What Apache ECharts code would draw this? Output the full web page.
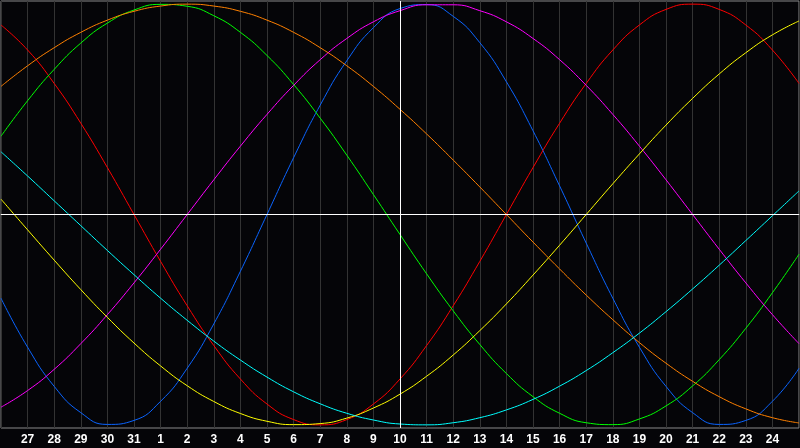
<!DOCTYPE html>
<html>
<head>
<meta charset="utf-8">
<script src="https://cdn.jsdelivr.net/npm/echarts@6/dist/echarts.min.js"></script>
<style>
html,body{margin:0;padding:0;background:#050508;}
#chart{width:800px;height:448px;}
</style>
</head>
<body>
<div id="chart"></div>
<script>
const days = ['26','27','28','29','30','31','1','2','3','4','5','6','7','8','9','10','11','12','13','14','15','16','17','18','19','20','21','22','23','24','25'];
const todayLabel = '10';
const physical = [-39.8,-63.1,-81.7,-94.2,-99.8,-97.9,-88.8,-73.1,-52.0,-27.0,0,27.0,52.0,73.1,88.8,97.9,99.8,94.2,81.7,63.1,39.8,13.6,-13.6,-39.8,-63.1,-81.7,-94.2,-99.8,-97.9,-88.8,-73.1];
const emotional = [90.1,78.2,62.3,43.4,22.3,0,-22.3,-43.4,-62.3,-78.2,-90.1,-97.5,-100,-97.5,-90.1,-78.2,-62.3,-43.4,-22.3,0,22.3,43.4,62.3,78.2,90.1,97.5,100,97.5,90.1,78.2,62.3];
const intellectual = [37.2,54.1,69.0,81.5,91.0,97.2,99.9,99.0,94.5,86.6,75.6,61.8,45.8,28.2,9.5,-9.5,-28.2,-45.8,-61.8,-75.6,-86.6,-94.5,-99.0,-99.9,-97.2,-91.0,-81.5,-69.0,-54.1,-37.2,-18.9];
const intuitive = [-91.6,-83.7,-73.6,-61.4,-47.6,-32.5,-16.5,0,16.5,32.5,47.6,61.4,73.6,83.7,91.6,96.9,99.7,99.7,96.9,91.6,83.7,73.6,61.4,47.6,32.5,16.5,0,-16.5,-32.5,-47.6,-61.4];
const aesthetic = [7.3,-7.3,-21.7,-35.7,-48.9,-61.1,-72.0,-81.4,-88.9,-94.6,-98.3,-99.9,-99.4,-96.8,-92.0,-85.4,-76.9,-66.8,-55.2,-42.5,-28.8,-14.6,0,14.6,28.8,42.5,55.2,66.8,76.9,85.4,92.0];
const awareness = [60.9,70.7,79.3,86.6,92.4,96.6,99.1,100,99.1,96.6,92.4,86.6,79.3,70.7,60.9,50.0,38.3,25.9,13.1,0,-13.1,-25.9,-38.3,-50.0,-60.9,-70.7,-79.3,-86.6,-92.4,-96.6,-99.1];
const spiritual = [29.8,18.3,6.5,-5.3,-17.1,-28.6,-39.8,-50.3,-60.2,-69.2,-77.3,-84.3,-90.0,-94.5,-97.7,-99.6,-100.0,-99.0,-96.6,-92.9,-87.9,-81.6,-74.2,-65.7,-56.4,-46.2,-35.4,-24.1,-12.4,-0.6,11.2];

const seriesDefs = [
  {name:'Physical', data:physical, color:'#0a64ff'},
  {name:'Emotional', data:emotional, color:'#ff0000'},
  {name:'Intellectual', data:intellectual, color:'#00ff00'},
  {name:'Intuitive', data:intuitive, color:'#ff00ff'},
  {name:'Aesthetic', data:aesthetic, color:'#ffff00'},
  {name:'Awareness', data:awareness, color:'#ff8000'},
  {name:'Spiritual', data:spiritual, color:'#00ffff'}
];

const chart = echarts.init(document.getElementById('chart'), null, {renderer:'canvas'});
const series = seriesDefs.map((s) => ({
  name: s.name,
  type: 'line',
  data: s.data,
  smooth: 0.5,
  symbol: 'none',
  lineStyle: {color: s.color, width: 1},
  itemStyle: {color: s.color},
  z: 3,
  animation: false
}));
series.push({
  type: 'line',
  data: [],
  animation: false,
  z: 2,
  markLine: {
    silent: true,
    symbol: 'none',
    animation: false,
    label: {show: false},
    lineStyle: {color: '#ffffff', width: 1, type: 'solid'},
    data: [{xAxis: todayLabel}, {yAxis: 0}]
  }
});

chart.setOption({
  backgroundColor: '#050508',
  animation: false,
  grid: {left: 1, right: 1, top: 1, bottom: 20, show: true, borderColor: '#8a8a8a', borderWidth: 1, backgroundColor: 'transparent'},
  xAxis: {
    type: 'category',
    data: days,
    boundaryGap: false,
    axisLine: {show: true, lineStyle: {color: '#9a9a9a', width: 1}},
    axisTick: {show: false},
    splitLine: {show: true, interval: 0, lineStyle: {color: '#333333', width: 1}},
    axisLabel: {
      color: '#ffffff',
      fontFamily: 'Liberation Sans',
      fontWeight: 'bold',
      fontSize: 12,
      margin: 6,
      interval: function (i) { return i > 0 && i < days.length - 1; }
    }
  },
  yAxis: {
    type: 'value',
    min: -101.5,
    max: 101.5,
    show: false,
    splitLine: {show: false}
  },
  series: series
});
</script>
</body>
</html>
